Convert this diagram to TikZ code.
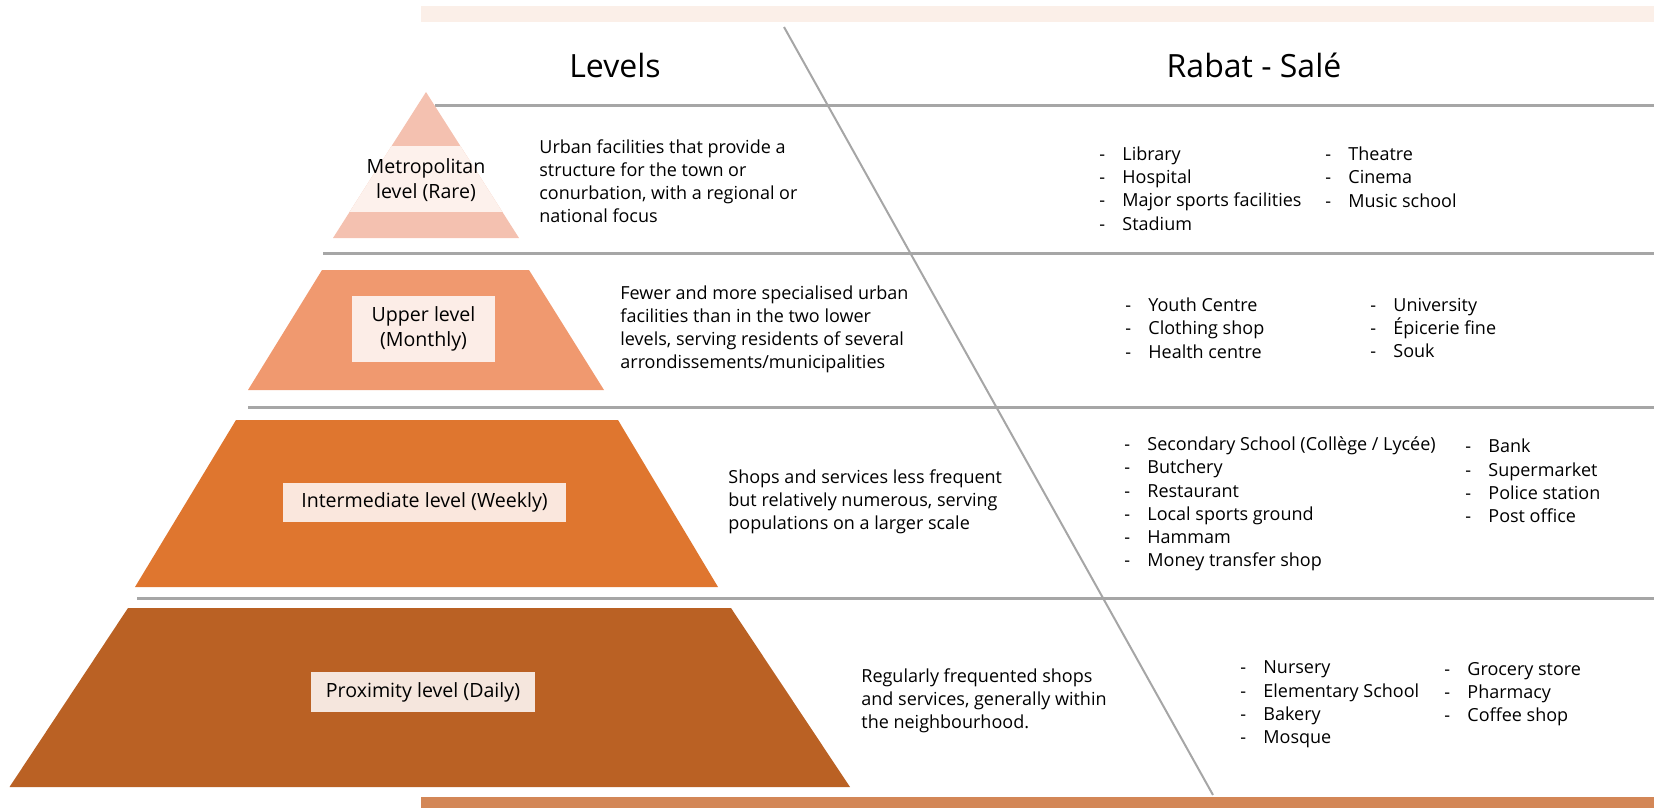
\documentclass[tikz,border=0pt]{standalone}
\usepackage{fontspec}
\setmainfont{Open Sans}
\definecolor{pinkA}{HTML}{F4C1B0}
\definecolor{pinkL}{HTML}{FDF1EC}
\definecolor{salmon}{HTML}{F0996F}
\definecolor{salmonBox}{HTML}{FCEDE7}
\definecolor{orangeA}{HTML}{DF762F}
\definecolor{orangeBox}{HTML}{FAE7DD}
\definecolor{brownA}{HTML}{BA6124}
\definecolor{brownBox}{HTML}{F5E6DD}
\definecolor{topstrip}{HTML}{FBEFE8}
\definecolor{botstrip}{HTML}{D38757}
\definecolor{linegray}{HTML}{A6A6A6}
\newcommand{\itm}[1]{\makebox[11.5pt][l]{-}#1}
\begin{document}
\begin{tikzpicture}[x=0.5pt,y=-0.5pt,
  gridline/.style={draw=linegray, line width=1.5pt},
  diagline/.style={draw=linegray, line width=1pt},
  title/.style={anchor=base, inner sep=0pt, font=\fontsize{16pt}{19pt}\selectfont},
  desc/.style={anchor=west, align=left, inner sep=0pt, font=\fontsize{9pt}{11.5pt}\selectfont},
  lst/.style={anchor=west, align=left, inner sep=0pt, font=\fontsize{9pt}{11.65pt}\selectfont},
  lvl/.style={inner sep=0pt, align=center, font=\fontsize{9.8pt}{12.5pt}\selectfont},
  lvlbox/.style={lvl, fill=#1}
]
\useasboundingbox (0,0) rectangle (1654,808);
% strips
\fill[topstrip] (421,6) rectangle (1654,22);
\fill[botstrip] (421,797) rectangle (1654,808);
% grid lines
\coordinate (l1a) at (435,106); \coordinate (l1b) at (1654,106);
\coordinate (l2a) at (323,253); \coordinate (l2b) at (1654,253);
\coordinate (l3a) at (248,407); \coordinate (l3b) at (1654,407);
\coordinate (l4a) at (137,598); \coordinate (l4b) at (1654,598);
\coordinate (dA) at (784,27); \coordinate (dB) at (1213,795);
\draw[gridline] (l1a) -- (l1b);
\draw[gridline] (l2a) -- (l2b);
\draw[gridline] (l3a) -- (l3b);
\draw[gridline] (l4a) -- (l4b);
\draw[diagline] (dA) -- (dB);
% titles
\node[title] (tLevels) at (615,78) {Levels};
\node[title] (tRabat) at (1254,78) {Rabat - Salé};
% metropolitan triangle
\fill[pinkA] (426,92) -- (519,238) -- (333,238) -- cycle;
\begin{scope}
  \clip (426,92) -- (519,238) -- (333,238) -- cycle;
  \fill[pinkL] (300,146) rectangle (560,212);
\end{scope}
\node[lvl] (metro) at (426,180) {Metropolitan\\level (Rare)};
% upper
\fill[salmon] (322,270) -- (529,270) -- (604,390) -- (248,390) -- cycle;
\node[lvlbox=salmonBox, minimum width=71.5pt, minimum height=33pt] (upper) at (423.5,329) {Upper level\\(Monthly)};
% intermediate
\fill[orangeA] (236,420) -- (618,420) -- (718,587) -- (135,587) -- cycle;
\node[lvlbox=orangeBox, minimum width=141.5pt, minimum height=19.5pt] (inter) at (424.5,502.5) {Intermediate level (Weekly)};
% proximity
\fill[brownA] (128,608) -- (731,608) -- (850,787) -- (9.5,787) -- cycle;
\node[lvlbox=brownBox, minimum width=112pt, minimum height=20pt] (prox) at (423,692) {Proximity level (Daily)};
% descriptions
\node[desc] (d1) at (539,181.5) {Urban facilities that provide a\\structure for the town or\\conurbation, with a regional or\\national focus};
\node[desc] (d2) at (620,329) {Fewer and more specialised urban\\facilities than in the two lower\\levels, serving residents of several\\arrondissements/municipalities};
\node[desc] (d3) at (728,502) {Shops and services less frequent\\but relatively numerous, serving\\populations on a larger scale};
\node[desc] (d4) at (861,701) {Regularly frequented shops\\and services, generally within\\the neighbourhood.};
% lists
\node[lst] (m1) at (1099,188.5) {\itm{Library}\\\itm{Hospital}\\\itm{Major sports facilities}\\\itm{Stadium}};
\node[lst] (m2) at (1325,177) {\itm{Theatre}\\\itm{Cinema}\\\itm{Music school}};
\node[lst] (u1) at (1125,328) {\itm{Youth Centre}\\\itm{Clothing shop}\\\itm{Health centre}};
\node[lst] (u2) at (1370,328) {\itm{University}\\\itm{Épicerie fine}\\\itm{Souk}};
\node[lst] (i1) at (1124,504) {\itm{Secondary School (Collège / Lycée)}\\\itm{Butchery}\\\itm{Restaurant}\\\itm{Local sports ground}\\\itm{Hammam}\\\itm{Money transfer shop}};
\node[lst] (i2) at (1465,481) {\itm{Bank}\\\itm{Supermarket}\\\itm{Police station}\\\itm{Post office}};
\node[lst] (p1) at (1240,704.5) {\itm{Nursery}\\\itm{Elementary School}\\\itm{Bakery}\\\itm{Mosque}};
\node[lst] (p2) at (1444,694) {\itm{Grocery store}\\\itm{Pharmacy}\\\itm{Coffee shop}};
\end{tikzpicture}
\end{document}
